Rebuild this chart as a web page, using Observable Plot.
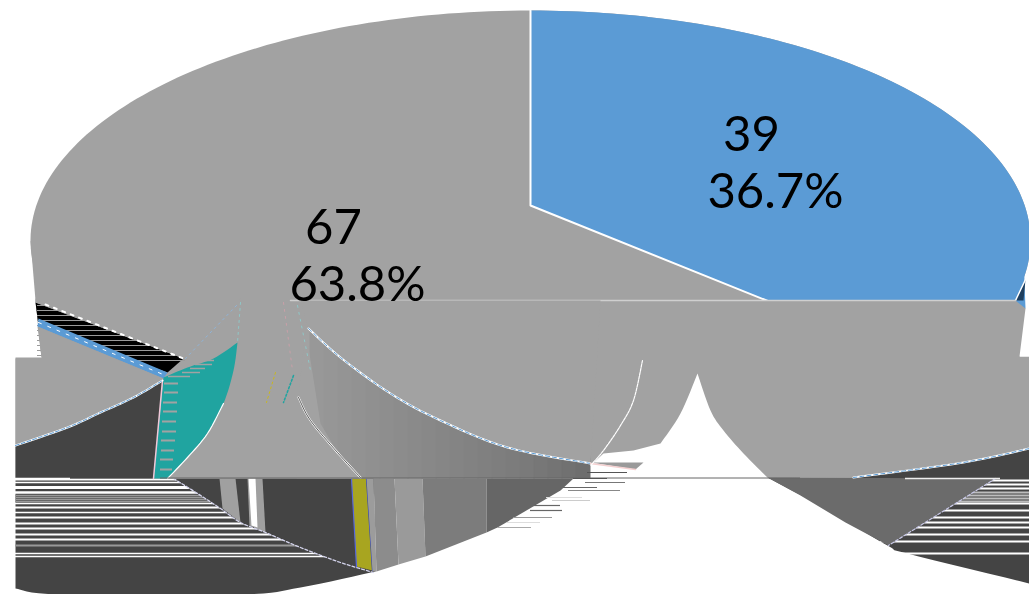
<!DOCTYPE html>
<html><head><meta charset="utf-8">
<style>html,body{margin:0;padding:0;background:#fff}svg{display:block}</style>
<script src="https://cdn.jsdelivr.net/npm/d3@7"></script>
<script src="https://cdn.jsdelivr.net/npm/@observablehq/plot@0.6"></script>
</head><body><div id="chart"></div>
<script>
// Values
const counts = [39, 67];
const percents = ["36.7%", "63.8%"];

// Curves
const curveWedgeL = [[697,373],[680,413],[660,443]];
const curveWedgeR = [[767,477],[743,453],[723,430],[710,410],[697,373]];
const curveRight = [[1029,448],[963,462],[853,477]];
const curveBlue = [[15,445],[67,427],[100,412],[133,397],[162,380]];
const curveTealTop = [[163,377],[187,367],[213,358],[237,342]];
const curveTealRight = [[237,342],[233,370],[223,403],[207,433],[187,457],[167,478]];
const curveTealLow = [[223,403],[207,433],[187,457],[167,478]];
const curveLower = [[173,478],[197,493],[220,508],[240,522],[265,532],[300,547],[340,562],[373,572]];
const curveBottom = [[15,588],[60,594],[240,594],[300,587],[375,571]];
const curveOuterRight = [[767,477],[823,507],[887,545],[907,553],[1029,583]];
const curveGradTop = [[308,328],[340,357],[390,393],[440,420],[507,447],[590,463]];
const curveGradLow = [[298,397],[310,420],[337,452],[360,477]];
const curveArc = [[642,360],[633,400],[620,425],[603,450],[590,465]];

// Outlines
const leftShoulder = [[30,240],[35,300],[41,357],[60,300]];
const wedgeBlack = [[35,302],[183,358],[167,372],[38,325]];
const wedgeBlue = [[38,318],[167,372],[163,378],[37,326]];
const maskAbove = [[35,298],[35,302],[183,358],[240,298]];
const band1 = [[219,478],[235,478],[240,522],[222,508]];
const band2 = [[247,478],[262,478],[265,532],[249,525]];
const bandWhite = [[248,478],[255,478],[257,527],[251,525]];
const yellowBand = [[351,478],[366,478],[372,570],[356,566]];
const bandsLowerFills = ["#9c9c9c","#8c8c8c","#9a9a9a","#7c7c7c","#666666"];
const bandsLower = [
  [[366,478],[373,478],[376,571],[372,571]],
  [[373,478],[394,478],[398,564],[376,571]],
  [[394,478],[422,478],[425,556],[398,564]],
  [[422,478],[486,478],[486,532],[425,556]],
  [[486,478],[573,478],[560,490],[497,527],[486,532]]
];
const gradEdges = [310,324,338,352,366,380,394,408,422,436,450,464,478,492,506,520,534,548,562,576,590];
const gradGreys = ["#989898","#969696","#949494","#929292","#909090","#8e8e8e","#8c8c8c","#8a8a8a","#888888","#868686","#848484","#828282","#808080","#7e7e7e","#7c7c7c","#7a7a7a","#777777","#747474","#717171","#6e6e6e"];
const gradTail = [[576,328],[590,328],[590,463],[573,478],[576,478]];
const gradMaskLeft = [[305,328],[320,423],[337,452],[362,478],[296,478],[298,397]];
const greyPatch = [[590,462],[643,462],[635,469]];
const navyTip = [[1015,300],[1025,279],[1023,300]];
const rightMid = [[767,477],[995,478],[888,545],[845,522],[800,495]];

// Pixel rows of the broken rendering
const rowsLeftY = [479,482,487,492,495,497,499,501,503,507,512,517,523,528,534,539,545,553,556];
const rowsLeftW = [2,1.5,3,2.5,1.5,1.5,1.5,1.5,1.5,2,1.5,2,2,2,2,2,2,1.6,1.6];
const rowsLeftFill = ["#fff","#fff","#fff","#fff","#999","#999","#999","#999","#fff","#fff","#fff","#fff","#fff","#fff","#fff","#fff","#999","#fff","#fff"];
const rowsRightY = [480,484,488,503,510,517,522,527,534,541,553];
const rowsRightGreyY = [492,495,498,501];
const hatchY = [305,310,315,320,325,330,335,340,345,350,355,360];
const tealY = [383,392,402,411,421,431,440,450,459,469];
const tealA = [164,164,163,163,162,162,161,161,160,160];
const tealB = [181,179,179,178,177,176,175,174,173,172];
const tealUpperY = [360,364,368,372,376];
const tealUpperA = [205,195,190,182,168];
const tealUpperB = [214,212,205,200,190];
const looseY = [472,478,482,487,490,497,500,505,510,517,522,527];
const looseX1 = [587,573,585,560,568,546,552,530,530,513,507,497];
const looseX2 = [627,607,625,597,620,582,590,560,562,552,540,531];
const looseFill = ["#555","#555","#777","#666","#888","#ddd","#ccc","#666","#666","#999","#ddd","#aaa"];

// Thin wisps
const wispA = [[240,302],[237,342]];
const wispB = [[236,305],[185,358]];
const wispC = [[283,302],[292,370]];
const wispD = [[297,305],[310,370]];
const wispYellow = [[275,372],[266,402]];
const wispTeal = [[293,375],[283,402]];

// Smooth a read curve into a dense outline
function smooth(p, n = 8) {
  const out = [];
  for (let i = 0; i < p.length - 1; i++) {
    const a = p[Math.max(i - 1, 0)], b = p[i], c = p[i + 1], d = p[Math.min(i + 2, p.length - 1)];
    for (let j = 0; j < n; j++) {
      const t = j / n, t2 = t * t, t3 = t2 * t;
      out.push([0, 1].map(k => 0.5 * (2 * b[k] + (c[k] - a[k]) * t + (2 * a[k] - 5 * b[k] + 4 * c[k] - d[k]) * t2 + (3 * b[k] - a[k] - 3 * c[k] + d[k]) * t3)));
    }
  }
  out.push(p[p.length - 1]);
  return out;
}

// Derived outlines
const lowerBody = [[35,300],[1015,300],[1025,308],[1019,356],[1029,356],...smooth(curveRight),[767,477],...smooth(curveWedgeR).slice(1),...smooth(curveWedgeL),[633,450],[603,453],[590,465],[573,478],[15,478],[15,357],[41,357]];
const maskBelow = [[37,326],[163,378],...smooth(curveBlue).reverse(),[15,357],[41,357]];
const darkLeft = [...smooth(curveBlue),[153,478],[15,478]];
const teal = [...smooth(curveTealTop),...smooth(curveTealRight),[153,478]];
const lowerDark = [[15,478],...smooth(curveBottom),[373,478]];
const topDark = [...smooth(curveLower),[373,478]];
const rightDark = [[853,477],...smooth(curveRight).reverse(),...smooth(curveOuterRight).reverse(),[767,477]];
const gradMaskTop = [[300,300],...smooth(curveGradTop),[600,300]];

// Pie geometry from the values
const total = d3.sum(counts);
const endAngle = 2 * Math.PI * counts[0] / total;
const cx = 530, cy = 240, rx = 500, ry = 230, apex = [530, 205];
const arc = (a0, a1, n = 90) => d3.range(n + 1).map(i => {
  const t = a0 + (a1 - a0) * i / n;
  return [cx + rx * Math.sin(t), cy - ry * Math.cos(t)];
});
const cut = Math.acos(-64 / ry);
const topEllipse = arc(-cut, cut, 180);
const rayEnd = [apex[0] + 500 * Math.sin(endAngle), apex[1] - 220 * Math.cos(endAngle)];
const blueSlice = [apex, ...arc(0, Math.PI * 0.55), [1024,282], [1025, 308], rayEnd];

const X = d => d[0], Y = d => d[1];
const poly = (pts, fill) => Plot.line(pts, {x: X, y: Y, fill, stroke: "none", curve: "linear"});
const edge = (pts, stroke, strokeWidth = 1, strokeDasharray) =>
  Plot.line(pts, {x: X, y: Y, stroke, strokeWidth, strokeDasharray, curve: "linear"});
const rows = (ys, x1, x2, stroke, strokeWidth = 1.5) =>
  Plot.ruleY(ys, {y: d => d, x1, x2, stroke, strokeWidth});

const GREY = "#a2a2a2", DARK = "#444444", BLUE = "#5b9bd5";
const font = {fontFamily: "Lato", fontSize: 49, fill: "#000", stroke: "none"};

const plot = Plot.plot({
  width: 1029, height: 594, margin: 0,
  style: {background: "#fff"},
  x: {type: "linear", domain: [0, 1029], range: [0, 1029], axis: null},
  y: {type: "linear", domain: [0, 594], range: [0, 594], axis: null},
  marks: [
    poly(lowerDark, DARK),
    Plot.ruleY(rowsLeftY.map((y, i) => ({y, c: rowsLeftFill[i], w: rowsLeftW[i]})), {y: "y", x1: 15, x2: 345, stroke: "c", strokeWidth: d => d.w}),
    poly(rightDark, DARK),
    rows(rowsRightY, 880, 1029, "#fff", 2),
    rows(rowsRightGreyY, 925, 1029, "#bdbdbd", 2),
    poly(rightMid, "#6b6b6b"),
    poly(topDark, DARK),
    poly(band1, "#a0a0a0"),
    poly(band2, "#a0a0a0"),
    poly(bandWhite, "#fff"),
    poly(yellowBand, "#a8a520"),
    edge([[351,478],[356,566]], "#5566dd", 1.2),
    edge([[366,478],[372,570]], "#3344bb", 1.2),
    ...bandsLower.map((b, i) => poly(b, bandsLowerFills[i])),
    edge(smooth(curveLower), "#d4d4ec", 1.3, "3 2"),
    edge([[995,478],[888,545]], "#c9c9e8", 1.2, "3 2"),

    poly(topEllipse, GREY),
    poly(blueSlice, BLUE),
    edge([[530,10],apex,rayEnd], "#fff", 2),
    poly(navyTip, "#1f3f5f"),
    edge([[1015,300],[1025,279]], "#fff", 1.5),
    poly(leftShoulder, GREY),
    poly(lowerBody, GREY),
    edge([[290,300],[1015,300]], "#cfcfcf", 1.5),
    rows([357], 15, 69, "#fff", 2),
    rows([358], 358, 407, "#fff", 2),
    rows([355], 1020, 1029, "#fff", 2),

    poly(wedgeBlack, "#000"),
    rows(hatchY, 37, 185, "#9a9a9a", 1.2),
    poly(wedgeBlue, BLUE),
    edge([[38,322],[165,375]], "#fff", 1, "3 7"),
    poly(maskAbove, GREY),
    poly(maskBelow, GREY),
    edge([[45,304],[183,358]], "#fff", 2, "3 6"),

    poly(darkLeft, DARK),
    poly(teal, "#20a4a0"),
    Plot.ruleY(tealY.map((y, i) => ({y, a: tealA[i], b: tealB[i]})), {y: "y", x1: "a", x2: "b", stroke: GREY, strokeWidth: 2, strokeDasharray: "14 3"}),
    Plot.ruleY(tealUpperY.map((y, i) => ({y, a: tealUpperA[i], b: tealUpperB[i]})), {y: "y", x1: "a", x2: "b", stroke: GREY, strokeWidth: 1.5}),
    edge([[162,380],[153,478]], "#f0c8d8", 1.5),
    edge(smooth(curveTealLow), "#fff", 1.2),
    edge(smooth(curveBlue), "#fff", 2),
    edge(smooth(curveBlue), BLUE, 1, "4 2"),

    Plot.rect(gradGreys.map((c, i) => ({x1: gradEdges[i], x2: gradEdges[i + 1], c})),
      {x1: "x1", x2: "x2", y1: 328, y2: 478, fill: "c", stroke: "c"}),
    poly(gradMaskTop, GREY),
    poly(gradMaskLeft, GREY),
    edge(smooth(curveGradTop), "#fff", 2),
    edge(smooth(curveGradTop), BLUE, 1, "4 3"),
    edge(smooth(curveGradLow), "#fff", 2),
    edge(smooth(curveGradLow), "#333", 0.8),
    poly(greyPatch, "#9a9a9a"),
    edge([[590,463],[635,469]], "#f4d0d0", 1.5),
    edge(smooth(curveArc), "#fff", 1.2, "3 1"),
    edge(smooth(curveRight), "#fff", 2),
    edge(smooth(curveRight), BLUE, 1, "4 3"),
    rows([477.5], 160, 800, "#666", 1),
    rows([478], 15, 70, "#fff", 1.5),
    rows([478], 905, 1000, "#eee", 1.5),

    Plot.ruleY(looseY.map((y, i) => ({y, a: looseX1[i], b: looseX2[i], c: looseFill[i]})),
      {y: "y", x1: "a", x2: "b", stroke: "c", strokeWidth: 1.2}),
    edge(wispA, "#8fc7c7", 1, "2 4"),
    edge(wispB, "#8fb4d8", 1, "2 4"),
    edge(wispC, "#c9a0a8", 1, "2 5"),
    edge(wispD, "#8fc7c7", 1, "2 5"),
    edge(wispYellow, "#c9b820", 1, "2 3"),
    edge(wispTeal, "#20a4a0", 1.5, "2 2"),

    Plot.text([counts[0]], {x: 751, y: 150, text: d => d, textAnchor: "middle", lineAnchor: "bottom", ...font}),
    Plot.text([percents[0]], {x: 775, y: 207, text: d => d, textAnchor: "middle", lineAnchor: "bottom", ...font}),
    Plot.text([counts[1]], {x: 333, y: 243, text: d => d, textAnchor: "middle", lineAnchor: "bottom", ...font}),
    Plot.text([percents[1]], {x: 357, y: 300, text: d => d, textAnchor: "middle", lineAnchor: "bottom", ...font})
  ]
});
document.getElementById("chart").append(plot);
</script></body></html>
